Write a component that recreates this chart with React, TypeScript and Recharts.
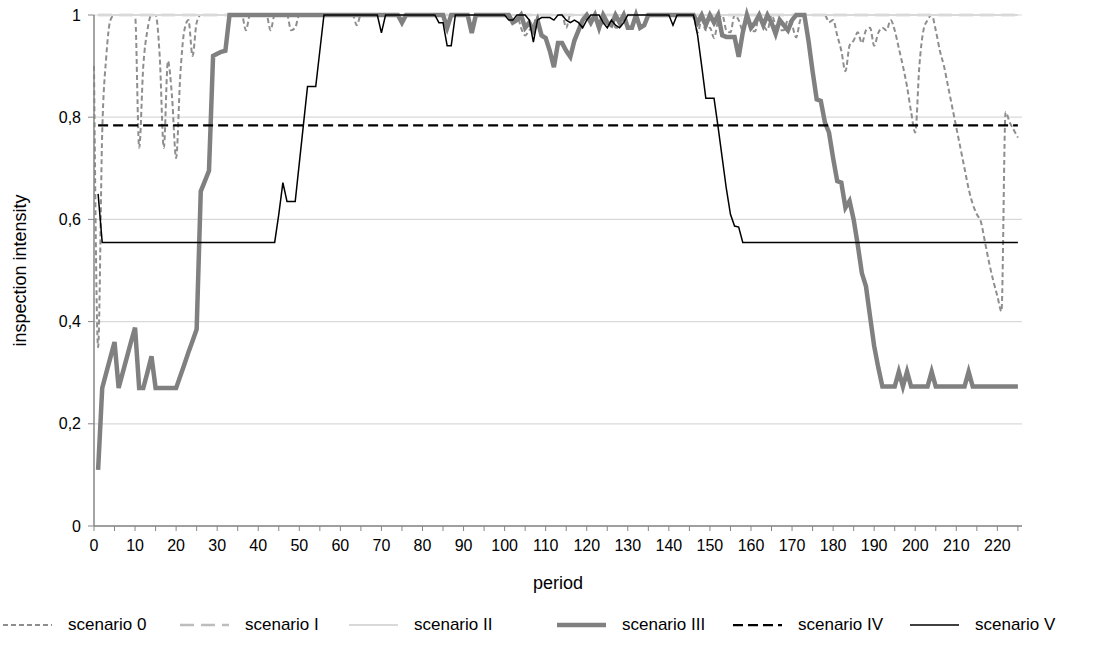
import React from 'react'
import { LineChart, Line, XAxis, YAxis, CartesianGrid } from 'recharts'

// period index shared by every series (0..225)
const PERIODS = Array.from({ length: 226 }, (_, i) => i)

const X_TICKS = [
  0, 5, 10, 15, 20, 25, 30, 35, 40, 45, 50, 55, 60, 65, 70, 75, 80, 85, 90, 95, 100, 105, 110, 115,
  120, 125, 130, 135, 140, 145, 150, 155, 160, 165, 170, 175, 180, 185, 190, 195, 200, 205, 210,
  215, 220, 225,
]
const Y_TICKS = [0, 0.2, 0.4, 0.6, 0.8, 1]

const SCENARIO_0 = [
  0.9, 0.35, 0.77, 0.92, 0.99, 1, 1, 1, 1, 1,
  1, 0.74, 0.9, 0.97, 1, 1, 0.92, 0.74, 0.91, 0.84,
  0.72, 0.88, 0.97, 0.99, 0.92, 0.985, 1, 1, 1, 1,
  1, 1, 1, 1, 1, 1, 1, 0.97, 1, 1,
  1, 1, 1, 0.97, 1, 1, 1, 1, 0.97, 0.975,
  1, 1, 1, 1, 1, 1, 1, 1, 1, 1,
  1, 1, 1, 1, 0.98, 1, 1, 1, 1, 1,
  1, 1, 1, 1, 1, 1, 1, 1, 1, 1,
  1, 1, 1, 1, 1, 1, 0.97, 1, 1, 1,
  1, 1, 1, 1, 1, 1, 1, 1, 1, 1,
  1, 1, 1, 1, 0.975, 0.96, 0.97, 0.98, 1, 1,
  1, 1, 1, 1, 1, 0.975, 1, 1, 1, 1,
  1, 1, 1, 1, 0.98, 1, 1, 0.975, 0.975, 1,
  1, 1, 1, 1, 1, 1, 1, 1, 1, 1,
  1, 1, 1, 1, 1, 1, 1, 0.966, 0.99, 0.97,
  0.975, 0.955, 0.99, 1, 0.97, 0.966, 1, 0.99, 0.97, 1,
  0.97, 0.968, 1, 0.98, 0.97, 1, 0.98, 0.97, 0.97, 0.99,
  0.98, 0.956, 0.99, 1, 1, 1, 1, 1, 1, 0.986,
  0.99, 0.96, 0.93, 0.89, 0.94, 0.95, 0.966, 0.945, 0.97, 0.975,
  0.94, 0.965, 0.975, 0.97, 0.99, 0.97, 0.935, 0.9, 0.86, 0.81,
  0.77, 0.9, 0.97, 0.99, 1, 0.97, 0.93, 0.9, 0.86, 0.82,
  0.78, 0.74, 0.7, 0.66, 0.63, 0.61, 0.595, 0.555, 0.515, 0.48,
  0.45, 0.42, 0.81, 0.79, 0.775, 0.76,
]

const SCENARIO_I = [
  null, 1, 1, 1, 1, 1, 1, 1, 1, 1,
  1, 1, 1, 1, 1, 1, 1, 1, 1, 1,
  1, 1, 1, 1, 1, 1, 1, 1, 1, 1,
  1, 1, 1, 1, 1, 1, 1, 1, 1, 1,
  1, 1, 1, 1, 1, 1, 1, 1, 1, 1,
  1, 1, 1, 1, 1, 1, 1, 1, 1, 1,
  1, 1, 1, 1, 1, 1, 1, 1, 1, 1,
  1, 1, 1, 1, 1, 1, 1, 1, 1, 1,
  1, 1, 1, 1, 1, 1, 1, 1, 1, 1,
  1, 1, 1, 1, 1, 1, 1, 1, 1, 1,
  1, 1, 1, 1, 1, 1, 1, 1, 1, 1,
  1, 1, 1, 1, 1, 1, 1, 1, 1, 1,
  1, 1, 1, 1, 1, 1, 1, 1, 1, 1,
  1, 1, 1, 1, 1, 1, 1, 1, 1, 1,
  1, 1, 1, 1, 1, 1, 1, 1, 1, 1,
  1, 1, 1, 1, 1, 1, 1, 1, 1, 1,
  1, 1, 1, 1, 1, 1, 1, 1, 1, 1,
  1, 1, 1, 1, 1, 1, 1, 1, 1, 1,
  1, 1, 1, 1, 1, 1, 1, 1, 1, 1,
  1, 1, 1, 1, 1, 1, 1, 1, 1, 1,
  1, 1, 1, 1, 1, 1, 1, 1, 1, 1,
  1, 1, 1, 1, 1, 1, 1, 1, 1, 1,
  1, 1, 1, 1, 1, 1,
]

const SCENARIO_II = [
  null, 1, 1, 1, 1, 1, 1, 1, 1, 1,
  1, 1, 1, 1, 1, 1, 1, 1, 1, 1,
  1, 1, 1, 1, 1, 1, 1, 1, 1, 1,
  1, 1, 1, 1, 1, 1, 1, 1, 1, 1,
  1, 1, 1, 1, 1, 1, 1, 1, 1, 1,
  1, 1, 1, 1, 1, 1, 1, 1, 1, 1,
  1, 1, 1, 1, 1, 1, 1, 1, 1, 1,
  1, 1, 1, 1, 1, 1, 1, 1, 1, 1,
  1, 1, 1, 1, 1, 1, 1, 1, 1, 1,
  1, 1, 1, 1, 1, 1, 1, 1, 1, 1,
  1, 1, 1, 1, 1, 1, 1, 1, 1, 1,
  1, 1, 1, 1, 1, 1, 1, 1, 1, 1,
  1, 1, 1, 1, 1, 1, 1, 1, 1, 1,
  1, 1, 1, 1, 1, 1, 1, 1, 1, 1,
  1, 1, 1, 1, 1, 1, 1, 1, 1, 1,
  1, 1, 1, 1, 1, 1, 1, 1, 1, 1,
  1, 1, 1, 1, 1, 1, 1, 1, 1, 1,
  1, 1, 1, 1, 1, 1, 1, 1, 1, 1,
  1, 1, 1, 1, 1, 1, 1, 1, 1, 1,
  1, 1, 1, 1, 1, 1, 1, 1, 1, 1,
  1, 1, 1, 1, 1, 1, 1, 1, 1, 1,
  1, 1, 1, 1, 1, 1, 1, 1, 1, 1,
  1, 1, 1, 1, 1, 1,
]

const SCENARIO_III = [
  null, 0.11, 0.27, 0.3, 0.33, 0.36, 0.27, 0.3, 0.33, 0.36,
  0.388, 0.27, 0.27, 0.3, 0.332, 0.27, 0.27, 0.27, 0.27, 0.27,
  0.27, 0.293, 0.316, 0.34, 0.362, 0.385, 0.655, 0.675, 0.695, 0.92,
  0.924, 0.928, 0.93, 1, 1, 1, 1, 1, 1, 1,
  1, 1, 1, 1, 1, 1, 1, 1, 1, 1,
  1, 1, 1, 1, 1, 1, 1, 1, 1, 1,
  1, 1, 1, 1, 1, 1, 1, 1, 1, 1,
  1, 1, 1, 1, 1, 0.985, 1, 1, 1, 1,
  1, 1, 1, 1, 1, 1, 0.975, 1, 1, 1,
  1, 1, 0.965, 1, 1, 1, 1, 1, 1, 1,
  1, 1, 0.985, 0.99, 1, 0.975, 0.985, 0.97, 0.99, 0.96,
  0.955, 0.93, 0.898, 0.945, 0.945, 0.93, 0.918, 0.95, 0.97, 0.99,
  1, 0.985, 1, 0.975, 1, 0.985, 0.98, 1, 0.985, 1,
  0.975, 0.975, 1, 0.975, 0.98, 1, 1, 1, 1, 1,
  1, 1, 1, 1, 1, 1, 1, 0.985, 1, 0.98,
  1, 0.985, 1, 0.96, 0.957, 0.957, 0.957, 0.918, 0.966, 1,
  0.975, 0.985, 1, 0.98, 1, 0.985, 0.963, 0.99, 0.98, 0.97,
  0.99, 1, 1, 1, 0.95, 0.89, 0.835, 0.832, 0.79, 0.77,
  0.72, 0.675, 0.672, 0.623, 0.636, 0.6, 0.55, 0.495, 0.469, 0.41,
  0.352, 0.31, 0.273, 0.273, 0.273, 0.273, 0.302, 0.273, 0.302, 0.273,
  0.273, 0.273, 0.273, 0.273, 0.302, 0.273, 0.273, 0.273, 0.273, 0.273,
  0.273, 0.273, 0.273, 0.302, 0.273, 0.273, 0.273, 0.273, 0.273, 0.273,
  0.273, 0.273, 0.273, 0.273, 0.273, 0.273,
]

const SCENARIO_IV = [
  null, 0.784, 0.784, 0.784, 0.784, 0.784, 0.784, 0.784, 0.784, 0.784,
  0.784, 0.784, 0.784, 0.784, 0.784, 0.784, 0.784, 0.784, 0.784, 0.784,
  0.784, 0.784, 0.784, 0.784, 0.784, 0.784, 0.784, 0.784, 0.784, 0.784,
  0.784, 0.784, 0.784, 0.784, 0.784, 0.784, 0.784, 0.784, 0.784, 0.784,
  0.784, 0.784, 0.784, 0.784, 0.784, 0.784, 0.784, 0.784, 0.784, 0.784,
  0.784, 0.784, 0.784, 0.784, 0.784, 0.784, 0.784, 0.784, 0.784, 0.784,
  0.784, 0.784, 0.784, 0.784, 0.784, 0.784, 0.784, 0.784, 0.784, 0.784,
  0.784, 0.784, 0.784, 0.784, 0.784, 0.784, 0.784, 0.784, 0.784, 0.784,
  0.784, 0.784, 0.784, 0.784, 0.784, 0.784, 0.784, 0.784, 0.784, 0.784,
  0.784, 0.784, 0.784, 0.784, 0.784, 0.784, 0.784, 0.784, 0.784, 0.784,
  0.784, 0.784, 0.784, 0.784, 0.784, 0.784, 0.784, 0.784, 0.784, 0.784,
  0.784, 0.784, 0.784, 0.784, 0.784, 0.784, 0.784, 0.784, 0.784, 0.784,
  0.784, 0.784, 0.784, 0.784, 0.784, 0.784, 0.784, 0.784, 0.784, 0.784,
  0.784, 0.784, 0.784, 0.784, 0.784, 0.784, 0.784, 0.784, 0.784, 0.784,
  0.784, 0.784, 0.784, 0.784, 0.784, 0.784, 0.784, 0.784, 0.784, 0.784,
  0.784, 0.784, 0.784, 0.784, 0.784, 0.784, 0.784, 0.784, 0.784, 0.784,
  0.784, 0.784, 0.784, 0.784, 0.784, 0.784, 0.784, 0.784, 0.784, 0.784,
  0.784, 0.784, 0.784, 0.784, 0.784, 0.784, 0.784, 0.784, 0.784, 0.784,
  0.784, 0.784, 0.784, 0.784, 0.784, 0.784, 0.784, 0.784, 0.784, 0.784,
  0.784, 0.784, 0.784, 0.784, 0.784, 0.784, 0.784, 0.784, 0.784, 0.784,
  0.784, 0.784, 0.784, 0.784, 0.784, 0.784, 0.784, 0.784, 0.784, 0.784,
  0.784, 0.784, 0.784, 0.784, 0.784, 0.784, 0.784, 0.784, 0.784, 0.784,
  0.784, 0.784, 0.784, 0.784, 0.784, 0.784,
]

const SCENARIO_V = [
  null, 0.65, 0.555, 0.555, 0.555, 0.555, 0.555, 0.555, 0.555, 0.555,
  0.555, 0.555, 0.555, 0.555, 0.555, 0.555, 0.555, 0.555, 0.555, 0.555,
  0.555, 0.555, 0.555, 0.555, 0.555, 0.555, 0.555, 0.555, 0.555, 0.555,
  0.555, 0.555, 0.555, 0.555, 0.555, 0.555, 0.555, 0.555, 0.555, 0.555,
  0.555, 0.555, 0.555, 0.555, 0.555, 0.61, 0.672, 0.635, 0.635, 0.635,
  0.71, 0.785, 0.86, 0.86, 0.86, 0.93, 1, 1, 1, 1,
  1, 1, 1, 1, 1, 1, 1, 1, 1, 1,
  0.965, 1, 1, 1, 1, 1, 1, 1, 1, 1,
  1, 1, 1, 1, 0.985, 0.985, 0.94, 0.94, 1, 1,
  1, 1, 1, 1, 1, 1, 1, 1, 1, 1,
  1, 0.99, 0.99, 1, 1, 1, 0.99, 0.947, 0.99, 0.995,
  0.995, 0.995, 0.99, 1, 1, 0.99, 0.985, 0.99, 0.985, 0.975,
  0.99, 1, 1, 1, 0.985, 0.975, 0.99, 0.98, 0.975, 0.985,
  1, 1, 1, 1, 1, 1, 1, 1, 1, 1,
  1, 0.98, 1, 1, 1, 1, 1, 0.96, 0.9, 0.837,
  0.837, 0.837, 0.78, 0.72, 0.66, 0.61, 0.587, 0.585, 0.555, 0.555,
  0.555, 0.555, 0.555, 0.555, 0.555, 0.555, 0.555, 0.555, 0.555, 0.555,
  0.555, 0.555, 0.555, 0.555, 0.555, 0.555, 0.555, 0.555, 0.555, 0.555,
  0.555, 0.555, 0.555, 0.555, 0.555, 0.555, 0.555, 0.555, 0.555, 0.555,
  0.555, 0.555, 0.555, 0.555, 0.555, 0.555, 0.555, 0.555, 0.555, 0.555,
  0.555, 0.555, 0.555, 0.555, 0.555, 0.555, 0.555, 0.555, 0.555, 0.555,
  0.555, 0.555, 0.555, 0.555, 0.555, 0.555, 0.555, 0.555, 0.555, 0.555,
  0.555, 0.555, 0.555, 0.555, 0.555, 0.555,
]

const FONT = '"Liberation Sans", Arial, sans-serif'
const AXIS_GREY = '#868686'

// drawing order = legend order (later series on top)
const SERIES = [
  { key: 's0', name: 'scenario 0', values: SCENARIO_0, color: '#8e8e8e', width: 2, dash: '5 3', type: 'monotone' },
  { key: 's1', name: 'scenario I', values: SCENARIO_I, color: '#bdbdbd', width: 2.5, dash: '14 7', type: 'linear' },
  { key: 's2', name: 'scenario II', values: SCENARIO_II, color: '#d9d9d9', width: 2, dash: undefined, type: 'linear' },
  { key: 's3', name: 'scenario III', values: SCENARIO_III, color: '#808080', width: 4.5, dash: undefined, type: 'linear' },
  { key: 's4', name: 'scenario IV', values: SCENARIO_IV, color: '#000000', width: 2.25, dash: '10 5', type: 'linear' },
  { key: 's5', name: 'scenario V', values: SCENARIO_V, color: '#000000', width: 1.5, dash: undefined, type: 'linear' },
]

const LEGEND_LEFT = [3, 180, 349, 557, 733, 910]

const rows = PERIODS.map((period, i) => {
  const row: Record<string, number | null> = { period }
  SERIES.forEach((s) => {
    row[s.key] = s.values[i]
  })
  return row
})

const fmtY = (v: number) => String(v).replace('.', ',')
const fmtX = (v: number) => (v % 10 === 0 ? String(v) : '')

function YTitle(props: any) {
  const vb = props.viewBox || { x: 0, y: 15, width: 94, height: 511 }
  const cx = vb.x + 20
  const cy = vb.y + vb.height / 2
  return (
    <text
      x={cx}
      y={cy}
      transform={`rotate(-90 ${cx} ${cy})`}
      textAnchor='middle'
      dominantBaseline='central'
      fontSize={18}
      fontFamily={FONT}
      fill='#000'
    >
      inspection intensity
    </text>
  )
}

function XTitle(props: any) {
  const vb = props.viewBox || { x: 94, y: 526, width: 928, height: 129 }
  return (
    <text x={vb.x + vb.width / 2} y={vb.y + 63} textAnchor='middle' fontSize={18} fontFamily={FONT} fill='#000'>
      period
    </text>
  )
}

export default function App() {
  return (
    <div style={{ position: 'absolute', left: 0, top: 0, width: 1110, height: 655, background: '#fff', fontFamily: FONT }}>
      <LineChart width={1110} height={655} data={rows} margin={{ top: 15, right: 88, bottom: 0, left: 0 }}>
        <CartesianGrid vertical={false} stroke='#d9d9d9' strokeWidth={1.2} />
        <XAxis
          dataKey='period'
          type='number'
          domain={[0, 226]}
          ticks={X_TICKS}
          interval={0}
          tickFormatter={fmtX}
          height={129}
          tickSize={5}
          tickMargin={9}
          tick={{ fill: '#000', fontSize: 16, fontFamily: FONT }}
          tickLine={{ stroke: AXIS_GREY }}
          axisLine={{ stroke: AXIS_GREY, strokeWidth: 1.5 }}
          label={<XTitle />}
        />
        <YAxis
          type='number'
          domain={[0, 1]}
          ticks={Y_TICKS}
          interval={0}
          tickFormatter={fmtY}
          width={94}
          tickSize={6}
          tickMargin={7}
          tick={{ fill: '#000', fontSize: 16, fontFamily: FONT }}
          tickLine={{ stroke: AXIS_GREY }}
          axisLine={{ stroke: AXIS_GREY, strokeWidth: 1.5 }}
          label={<YTitle />}
        />
        {SERIES.map((s) => (
          <Line
            key={s.key}
            dataKey={s.key}
            name={s.name}
            type={s.type as any}
            stroke={s.color}
            strokeWidth={s.width}
            strokeDasharray={s.dash}
            dot={false}
            activeDot={false}
            isAnimationActive={false}
          />
        ))}
      </LineChart>
      {SERIES.map((s, i) => (
        <div
          key={s.key}
          style={{ position: 'absolute', left: LEGEND_LEFT[i], top: 615, height: 20, display: 'flex', alignItems: 'center', fontSize: 17, color: '#000', whiteSpace: 'nowrap' }}
        >
          <svg width={49} height={12}>
            <line x1={0} y1={6} x2={49} y2={6} stroke={s.color} strokeWidth={s.width} strokeDasharray={s.dash} />
          </svg>
          <span style={{ marginLeft: 16 }}>{s.name}</span>
        </div>
      ))}
    </div>
  )
}
